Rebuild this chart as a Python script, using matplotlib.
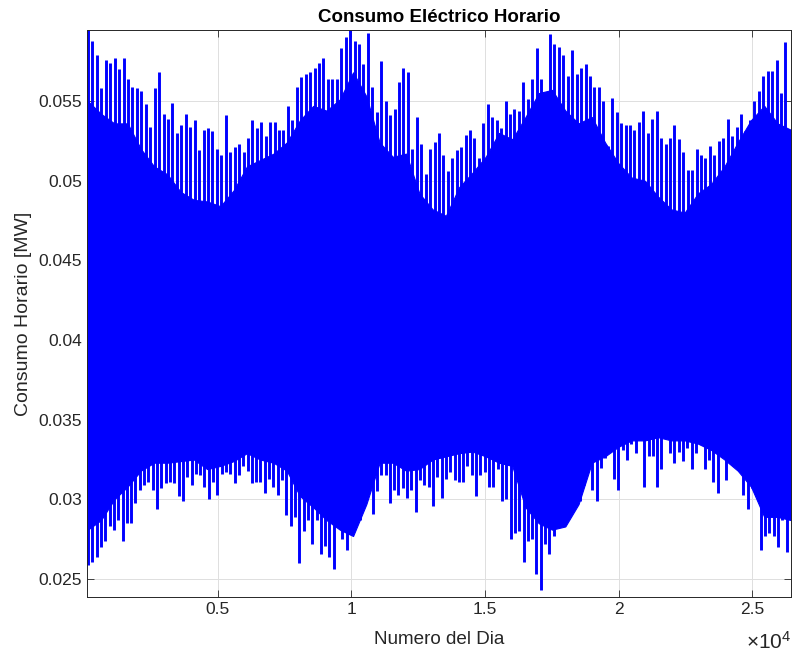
import numpy as np
import matplotlib.pyplot as plt

# picos semanales superiores (MW)
pico_sup = [0.0595, 0.0588, 0.0579, 0.0558, 0.0576, 0.0574, 0.0577, 0.0570, 0.0577, 0.0564,
            0.0559, 0.0558, 0.0556, 0.0548, 0.0534, 0.0558, 0.0568, 0.0542, 0.0539, 0.0549,
            0.0530, 0.0535, 0.0542, 0.0534, 0.0538, 0.0519, 0.0532, 0.0533, 0.0531, 0.0520,
            0.0516, 0.0541, 0.0518, 0.0521, 0.0523, 0.0518, 0.0527, 0.0538, 0.0533, 0.0537,
            0.0528, 0.0537, 0.0537, 0.0532, 0.0532, 0.0547, 0.0538, 0.0559, 0.0565, 0.0567,
            0.0568, 0.0571, 0.0574, 0.0577, 0.0564, 0.0564, 0.0564, 0.0583,
            0.0590, 0.0595, 0.0588, 0.0586, 0.0573, 0.0593, 0.0559, 0.0543, 0.0575, 0.0550,
            0.0541, 0.0545, 0.0562, 0.0571, 0.0568, 0.0520, 0.0540, 0.0523, 0.0504, 0.0520,
            0.0524, 0.0530, 0.0516, 0.0506, 0.0514, 0.0519, 0.0521, 0.0529, 0.0532, 0.0527,
            0.0514, 0.0536, 0.0548, 0.0540, 0.0538, 0.0533, 0.0550, 0.0542, 0.0545, 0.0544,
            0.0562, 0.0551, 0.0564, 0.0583, 0.0564, 0.0540, 0.0592, 0.0586, 0.0584, 0.0579,
            0.0566, 0.0582, 0.0567, 0.0571, 0.0573,
            0.0566, 0.0559, 0.0559, 0.0550, 0.0522, 0.0552, 0.0543, 0.0536, 0.0535, 0.0535,
            0.0532, 0.0537, 0.0544, 0.0530, 0.0539, 0.0544, 0.0527, 0.0523, 0.0527, 0.0535,
            0.0526, 0.0518, 0.0507, 0.0507, 0.0520, 0.0516, 0.0514, 0.0522, 0.0516, 0.0525,
            0.0527, 0.0539, 0.0528, 0.0534, 0.0542, 0.0531, 0.0538, 0.0550, 0.0556, 0.0566,
            0.0569, 0.0569, 0.0576, 0.0555, 0.0587]

# picos semanales inferiores (MW)
pico_inf = [0.0259, 0.0261, 0.0264, 0.0270, 0.0274, 0.0283, 0.0281, 0.0287, 0.0274, 0.0285,
            0.0285, 0.0298, 0.0306, 0.0309, 0.0311, 0.0306, 0.0294, 0.0307, 0.0310, 0.0311,
            0.0310, 0.0302, 0.0299, 0.0314, 0.0309, 0.0316, 0.0315, 0.0308, 0.0300, 0.0311,
            0.0303, 0.0316, 0.0317, 0.0316, 0.0310, 0.0315, 0.0321, 0.0318, 0.0310, 0.0311,
            0.0311, 0.0304, 0.0313, 0.0308, 0.0303, 0.0312, 0.0290, 0.0283, 0.0289, 0.0260,
            0.0280, 0.0287, 0.0272, 0.0287, 0.0266, 0.0271, 0.0264, 0.0256,
            0.0286, 0.0275, 0.0268, 0.0278, 0.0285, 0.0287, 0.0314, 0.0311, 0.0291, 0.0305,
            0.0315, 0.0315, 0.0298, 0.0306, 0.0303, 0.0307, 0.0301, 0.0306, 0.0292, 0.0312,
            0.0309, 0.0308, 0.0296, 0.0314, 0.0301, 0.0313, 0.0317, 0.0312, 0.0311, 0.0311,
            0.0321, 0.0315, 0.0302, 0.0315, 0.0317, 0.0308, 0.0308, 0.0319, 0.0299, 0.0300,
            0.0275, 0.0279, 0.0280, 0.0261, 0.0274, 0.0275, 0.0253, 0.0243, 0.0272, 0.0266,
            0.0277, 0.0287, 0.0289, 0.0297, 0.0304,
            0.0305, 0.0299, 0.0309, 0.0323, 0.0306, 0.0299, 0.0320, 0.0326, 0.0336, 0.0313,
            0.0306, 0.0331, 0.0325, 0.0335, 0.0329, 0.0341, 0.0308, 0.0327, 0.0327, 0.0308,
            0.0319, 0.0341, 0.0329, 0.0323, 0.0330, 0.0324, 0.0332, 0.0319, 0.0329, 0.0336,
            0.0319, 0.0325, 0.0311, 0.0304, 0.0331, 0.0312, 0.0323, 0.0323, 0.0323, 0.0303,
            0.0294, 0.0307, 0.0303, 0.0268, 0.0277, 0.0279, 0.0277, 0.0270, 0.0287, 0.0267]

# nivel continuo (zona solida) cada ~500 horas
base_sup = [0.0550, 0.0542, 0.0536, 0.0536, 0.0520, 0.0509, 0.0504, 0.0493, 0.0488, 0.0487,
            0.0484, 0.0494, 0.0509, 0.0513, 0.0517, 0.0524, 0.0538, 0.0547, 0.0544,
            0.0551, 0.0568, 0.0553, 0.0524, 0.0515, 0.0517, 0.0492, 0.0482, 0.0478, 0.0496,
            0.0505, 0.0515, 0.0530, 0.0526, 0.0540, 0.0555, 0.0557, 0.0544, 0.0536,
            0.0540, 0.0524, 0.0511, 0.0502, 0.0500, 0.0490, 0.0482, 0.0480, 0.0492, 0.0498,
            0.0509, 0.0524, 0.0538, 0.0547, 0.0536, 0.0532]
base_inf = [0.0281, 0.0287, 0.0300, 0.0308, 0.0318, 0.0323, 0.0323, 0.0324, 0.0325, 0.0319,
            0.0321, 0.0324, 0.0329, 0.0325, 0.0323, 0.0318, 0.0302, 0.0295, 0.0287,
            0.0281, 0.0277, 0.0297, 0.0323, 0.0323, 0.0318, 0.0319, 0.0325, 0.0327, 0.0329,
            0.0330, 0.0327, 0.0323, 0.0321, 0.0295, 0.0285, 0.0281, 0.0283, 0.0297,
            0.0323, 0.0327, 0.0333, 0.0337, 0.0337, 0.0339, 0.0337, 0.0337, 0.0335, 0.0331,
            0.0325, 0.0318, 0.0308, 0.0289, 0.0289, 0.0287]

hora_sup = np.linspace(140, 26240, len(pico_sup))
hora_inf = np.linspace(140, 26280, len(pico_inf))
hora_base = np.linspace(131, 26440, len(base_sup))

gris = '#262626'
plt.rcParams['font.family'] = ['Liberation Sans', 'DejaVu Sans']
plt.rcParams['mathtext.default'] = 'regular'

fig = plt.figure(figsize=(7.92, 6.55), dpi=100)
ax = fig.add_axes([0.1098, 0.0885, 0.889, 0.8657])

ax.fill_between(hora_base, base_inf, base_sup, color='#0000ff', lw=0.8)
ax.vlines(hora_sup, 0.04, pico_sup, color='#0000ff', lw=2.1)
ax.vlines(hora_inf, pico_inf, 0.04, color='#0000ff', lw=2.1)

ax.set_xlim(100, 26450)
ax.set_ylim(0.02387, 0.05946)
ax.set_xticks([5000, 10000, 15000, 20000, 25000])
ax.set_xticklabels(['0.5', '1', '1.5', '2', '2.5'])
yt = [0.025, 0.03, 0.035, 0.04, 0.045, 0.05, 0.055]
ax.set_yticks(yt)
ax.set_yticklabels(['%g' % v for v in yt])

ax.grid(True, color='#dfdfdf', lw=0.7)
ax.set_axisbelow(True)
ax.tick_params(direction='in', length=5, width=0.6, colors=gris, labelsize=12.5,
               top=True, right=True)
for s in ax.spines.values():
    s.set_color(gris)
    s.set_linewidth(0.7)

ax.set_xlabel('Numero del Dia', fontsize=13.6, color=gris, labelpad=10)
ax.set_ylabel('Consumo Horario [MW]', fontsize=14, color=gris, labelpad=5)
ax.set_title('Consumo Eléctrico Horario', fontsize=13.5, fontweight='bold', pad=6)
ax.text(1.0, -0.0905, r'×10$^{4}$', transform=ax.transAxes, ha='right', va='baseline',
        fontsize=15, color=gris)

fig.savefig('out.png', dpi=100)
